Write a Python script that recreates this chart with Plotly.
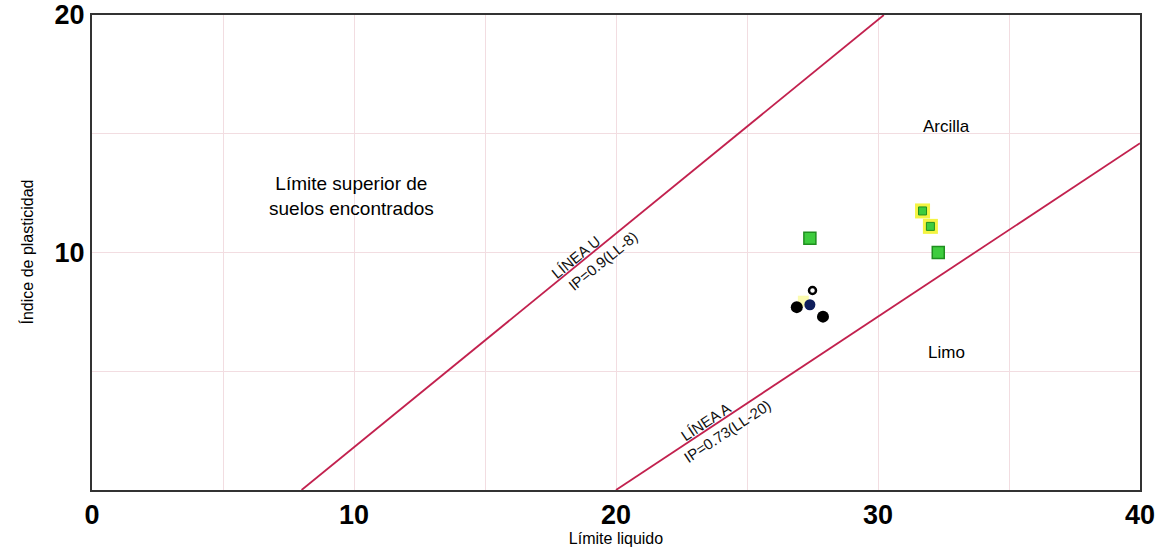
import numpy as np
import plotly.graph_objects as go

# Límite líquido (LL) e índice de plasticidad (IP) de las muestras
ll_verde = [27.4, 32.3]
ip_verde = [10.6, 10.0]
ll_amarillo = [31.7, 32.0]
ip_amarillo = [11.75, 11.1]
ll_negro = [26.9, 27.9]
ip_negro = [7.7, 7.3]
ll_azul = [27.4]
ip_azul = [7.8]
ll_hueco = [27.5]
ip_hueco = [8.4]

x_ticks = [0, 10, 20, 30, 40]
y_ticks = [10, 20]

# Línea U: IP = 0.9(LL-8); Línea A: IP = 0.73(LL-20)
ll_u = np.array([8.0, 20 / 0.9 + 8])
ip_u = 0.9 * (ll_u - 8)
ll_a = np.array([20.0, 40.0])
ip_a = 0.73 * (ll_a - 20)

linea = "#c2214e"
fig = go.Figure()
fig.add_trace(go.Scatter(x=ll_u, y=ip_u, mode="lines", line=dict(color=linea, width=1.8), hoverinfo="skip"))
fig.add_trace(go.Scatter(x=ll_a, y=ip_a, mode="lines", line=dict(color=linea, width=1.8), hoverinfo="skip"))

fig.add_trace(go.Scatter(x=ll_amarillo, y=ip_amarillo, mode="markers",
                         marker=dict(symbol="square", size=15, color="#f4f442", line=dict(width=0))))
fig.add_trace(go.Scatter(x=ll_amarillo, y=ip_amarillo, mode="markers",
                         marker=dict(symbol="square", size=8, color="#3ecc3e", line=dict(color="#1f8f1f", width=1))))
fig.add_trace(go.Scatter(x=ll_verde, y=ip_verde, mode="markers",
                         marker=dict(symbol="square", size=12, color="#3ecc3e", line=dict(color="#1f8f1f", width=1.5))))
fig.add_trace(go.Scatter(x=[27.15], y=[7.95], mode="markers",
                         marker=dict(symbol="square", size=11, color="#fbfbb0", line=dict(width=0))))
fig.add_trace(go.Scatter(x=ll_negro, y=ip_negro, mode="markers",
                         marker=dict(symbol="circle", size=12, color="#000000")))
fig.add_trace(go.Scatter(x=ll_azul, y=ip_azul, mode="markers",
                         marker=dict(symbol="circle", size=11, color="#0f1f5c")))
fig.add_trace(go.Scatter(x=ll_hueco, y=ip_hueco, mode="markers",
                         marker=dict(symbol="circle-open", size=7, color="#000000", line=dict(width=2.5))))

# Rótulos de las líneas, girados según la pendiente en pantalla
px_x = (1168 - 92 - 28) / 40
px_y = (549 - 15 - 59) / 20


def rotulo(ll, m, c, texto, d):
    th = np.arctan(m * px_y / px_x)
    fig.add_annotation(x=ll, y=m * (ll - c), text=texto, showarrow=False,
                       textangle=-np.degrees(th),
                       xshift=-np.sin(th) * d, yshift=np.cos(th) * d,
                       font=dict(family="Liberation Sans, Arial", size=15, color="#111111"))


rotulo(18.66, 0.9, 8, "LÍNEA U", 7)
rotulo(19.2, 0.9, 8, "IP=0.9(LL-8)", -13)
rotulo(23.59, 0.73, 20, "LÍNEA A", 7)
rotulo(23.97, 0.73, 20, "IP=0.73(LL-20)", -12)

txt = dict(family="Arial, Liberation Sans", size=17, color="#000000")
fig.add_annotation(x=32.6, y=15.3, text="Arcilla", showarrow=False, font=txt)
fig.add_annotation(x=32.6, y=5.8, text="Limo", showarrow=False, font=txt)
fig.add_annotation(x=9.9, y=12.4, text="Límite superior de<br>suelos encontrados",
                   showarrow=False, font=dict(family="Arial, Liberation Sans", size=19, color="#000000"))

# Título del eje vertical
fig.add_annotation(xref="paper", yref="paper", x=-(92 - 26) / 1048, y=0.5, text="Índice de plasticidad",
                   textangle=-90, showarrow=False, xanchor="center", yanchor="middle",
                   font=dict(family="Liberation Sans, Arial", size=16, color="#000000"))

eje = dict(showline=True, linecolor="#333333", linewidth=2, mirror=True,
           gridcolor="#f2dde1", gridwidth=1, zeroline=False, ticks="", automargin=False,
           tickfont=dict(family="Arial, Liberation Sans", size=27, color="#000000", weight="bold"))

fig.update_xaxes(range=[0, 40], tickvals=list(range(0, 41, 5)),
                 ticktext=[str(v) if v in x_ticks else "" for v in range(0, 41, 5)],
                 title=dict(text="Límite liquido", standoff=0,
                            font=dict(family="Liberation Sans, Arial", size=16, color="#000000")),
                 **eje)
fig.update_yaxes(range=[0, 20], tickvals=list(range(0, 21, 5)),
                 ticktext=[str(v) if v in y_ticks else "" for v in range(0, 21, 5)],
                 **eje)
fig.update_layout(width=1168, height=549, showlegend=False,
                  margin=dict(l=92, r=28, t=15, b=59),
                  plot_bgcolor="#ffffff", paper_bgcolor="#ffffff")
fig.write_html("out.html")
